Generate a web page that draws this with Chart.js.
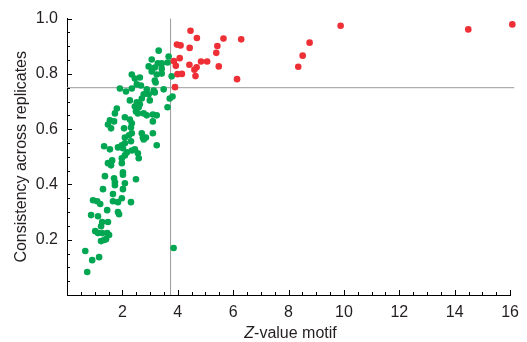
<!DOCTYPE html>
<html>
<head>
<meta charset="utf-8">
<script src="https://cdn.jsdelivr.net/npm/chart.js@4.4.1/dist/chart.umd.min.js"></script>
<style>
    html, body { margin: 0; padding: 0; background: #fff; }
    #wrap { width: 527px; height: 342px; position: relative; }
</style>
</head>
<body>
<div id="wrap"><canvas id="motif-chart"></canvas></div>
<script>
const X_TICKS = [2, 4, 6, 8, 10, 12, 14, 16];
const Y_TICKS = [0.2, 0.4, 0.6, 0.8, 1.0];
const X_TITLE_ITALIC = 'Z';
const X_TITLE_REST = '-value motif';
const Y_TITLE = 'Consistency across replicates';

// seuils (lignes grises)
const Z_CUTOFF = 3.74;
const CONSISTENCY_CUTOFF = 0.75;

// motifs sous le seuil (verts)
const greenZ = [
    3.31, 3.67, 3.63, 3.06, 3.28, 3.42, 2.95, 3.17, 3.42, 3.06, 3.24, 3.42, 2.34, 2.45, 2.63, 3.17,
    3.78, 2.52, 2.67, 3.20, 1.91, 2.34, 2.13, 2.88, 3.13, 3.49, 2.77, 2.95, 3.17, 3.81, 3.71, 2.27,
    2.70, 2.99, 2.52, 2.63, 1.80, 2.45, 2.59, 3.63, 1.73, 2.49, 2.56, 2.77, 2.88, 3.10, 3.24, 2.09,
    1.55, 1.70, 2.27, 2.34, 3.10, 1.48, 1.59, 2.06, 2.31, 2.09, 2.24, 2.34, 2.70, 2.74, 2.85, 2.77,
    3.10, 2.31, 1.34, 1.55, 1.84, 1.98, 2.45, 3.24, 2.16, 2.09, 1.98, 2.56, 2.59, 2.34, 1.63, 1.48,
    1.59, 1.98, 2.02, 2.02, 1.37, 1.70, 1.73, 2.49, 1.73, 2.09, 1.30, 2.02, 1.66, 1.98, 0.94, 1.09,
    1.20, 1.66, 1.84, 2.31, 1.45, 1.84, 1.88, 0.87, 1.12, 1.27, 1.48, 1.23, 1.02, 1.12, 1.27, 1.45,
    1.52, 1.23, 1.34, 1.41, 0.66, 0.91, 1.16, 0.73, 3.85, 2.09, 2.02
];
const greenC = [
    0.884, 0.863, 0.841, 0.852, 0.838, 0.838, 0.827, 0.823, 0.819, 0.809, 0.798, 0.801, 0.798, 0.783, 0.787, 0.776,
    0.791, 0.762, 0.758, 0.769, 0.747, 0.747, 0.736, 0.744, 0.740, 0.744, 0.726, 0.726, 0.733, 0.718, 0.711, 0.704,
    0.711, 0.704, 0.697, 0.690, 0.675, 0.682, 0.679, 0.679, 0.657, 0.664, 0.657, 0.657, 0.650, 0.653, 0.650, 0.643,
    0.632, 0.628, 0.635, 0.621, 0.628, 0.617, 0.603, 0.603, 0.606, 0.570, 0.578, 0.585, 0.585, 0.570, 0.570, 0.563,
    0.585, 0.556, 0.538, 0.527, 0.534, 0.542, 0.527, 0.542, 0.516, 0.505, 0.495, 0.513, 0.495, 0.523, 0.487, 0.477,
    0.469, 0.477, 0.444, 0.435, 0.430, 0.422, 0.408, 0.419, 0.397, 0.404, 0.383, 0.383, 0.365, 0.350, 0.343, 0.339,
    0.329, 0.339, 0.336, 0.336, 0.307, 0.300, 0.292, 0.289, 0.285, 0.264, 0.264, 0.249, 0.231, 0.224, 0.224, 0.224,
    0.217, 0.195, 0.199, 0.202, 0.159, 0.126, 0.137, 0.083, 0.170, 0.549, 0.531
];

// motifs au-dessus des deux seuils (rouges)
const redZ = [
    4.46, 4.69, 5.65, 6.29, 3.97, 4.10, 4.43, 5.43, 5.39, 4.07, 3.86, 3.93, 4.42, 4.84, 5.06,
    4.68, 4.60, 5.48, 3.99, 4.15, 4.64, 6.14, 3.90, 8.35, 8.51, 8.76, 9.88, 14.49, 16.08
];
const redC = [
    0.956, 0.930, 0.928, 0.925, 0.906, 0.903, 0.894, 0.901, 0.876, 0.857, 0.846, 0.829, 0.833, 0.845, 0.845,
    0.824, 0.815, 0.827, 0.799, 0.800, 0.792, 0.781, 0.752, 0.826, 0.866, 0.913, 0.974, 0.961, 0.979
];

const FONT = '"Liberation Sans", Arial, Helvetica, sans-serif';
const TEXT_COLOR = '#231f20';

const toPoints = (xs, ys) => xs.map((x, i) => ({ x, y: ys[i] }));

// ── Ticks vers l'intérieur + titres d'axes ─────────────────
const axisDecor = {
    id: 'axisDecor',
    afterDraw(chart) {
        const { ctx, chartArea: a, scales: { x, y } } = chart;
        ctx.save();
        ctx.strokeStyle = '#000';
        ctx.lineWidth = 1;
        ctx.beginPath();
        for (let i = 1; i <= 32; i++) {
            const px = Math.round(x.getPixelForValue(i * 0.5)) + 0.5;
            const len = i % 4 === 0 ? 5 : 3;
            ctx.moveTo(px, a.bottom);
            ctx.lineTo(px, a.bottom - len);
        }
        for (let i = 1; i <= 20; i++) {
            const py = Math.round(y.getPixelForValue(i * 0.05)) + 0.5;
            const len = i % 4 === 0 ? 5 : 3;
            ctx.moveTo(a.left, py);
            ctx.lineTo(a.left + len, py);
        }
        ctx.stroke();

        ctx.fillStyle = TEXT_COLOR;
        ctx.textBaseline = 'alphabetic';

        // titre X : Z en italique
        ctx.font = 'italic 16px ' + FONT;
        const wZ = ctx.measureText(X_TITLE_ITALIC).width;
        ctx.font = '16px ' + FONT;
        const wRest = ctx.measureText(X_TITLE_REST).width;
        const cx = (a.left + a.right) / 2 + 2;
        const x0 = cx - (wZ + wRest) / 2;
        ctx.textAlign = 'left';
        ctx.font = 'italic 16px ' + FONT;
        ctx.fillText(X_TITLE_ITALIC, x0, 338);
        ctx.font = '16px ' + FONT;
        ctx.fillText(X_TITLE_REST, x0 + wZ, 338);

        // titre Y
        ctx.translate(26, (a.top + a.bottom) / 2);
        ctx.rotate(-Math.PI / 2);
        ctx.textAlign = 'center';
        ctx.fillText(Y_TITLE, 0, 0);
        ctx.restore();
    }
};

new Chart(document.getElementById('motif-chart'), {
    type: 'scatter',
    data: {
        datasets: [
            {
                data: [{ x: Z_CUTOFF, y: 0 }, { x: Z_CUTOFF, y: 1 }],
                showLine: true,
                borderColor: '#9b9b9b',
                borderWidth: 1,
                pointRadius: 0,
                clip: false,
                order: 3
            },
            {
                data: [{ x: 0, y: CONSISTENCY_CUTOFF }, { x: 16.15, y: CONSISTENCY_CUTOFF }],
                showLine: true,
                borderColor: '#9b9b9b',
                borderWidth: 1,
                pointRadius: 0,
                clip: false,
                order: 3
            },
            {
                data: toPoints(greenZ, greenC),
                backgroundColor: '#00a651',
                borderWidth: 0,
                pointRadius: 3.3,
                clip: false,
                order: 2
            },
            {
                data: toPoints(redZ, redC),
                backgroundColor: '#ee2f35',
                borderWidth: 0,
                pointRadius: 3.3,
                clip: false,
                order: 1
            }
        ]
    },
    plugins: [axisDecor],
    options: {
        responsive: true,
        maintainAspectRatio: false,
        animation: false,
        layout: { padding: { top: 18, right: 15, left: 0, bottom: 0 } },
        plugins: {
            legend: { display: false },
            tooltip: { enabled: false }
        },
        scales: {
            x: {
                type: 'linear',
                min: 0,
                max: 16,
                afterFit: s => { s.height = 47; },
                afterBuildTicks: s => { s.ticks = X_TICKS.map(v => ({ value: v })); },
                grid: { display: false, drawTicks: false },
                border: { display: true, color: '#000', width: 1 },
                ticks: {
                    padding: 8,
                    color: TEXT_COLOR,
                    maxRotation: 0,
                    autoSkip: false,
                    font: { family: FONT, size: 16 },
                    callback: v => String(v)
                }
            },
            y: {
                type: 'linear',
                min: 0,
                max: 1,
                afterFit: s => { s.width = 67; },
                afterBuildTicks: s => { s.ticks = Y_TICKS.map(v => ({ value: v })); },
                grid: { display: false, drawTicks: false },
                border: { display: true, color: '#000', width: 1 },
                ticks: {
                    padding: 9,
                    color: TEXT_COLOR,
                    autoSkip: false,
                    font: { family: FONT, size: 16 },
                    callback: v => v.toFixed(1)
                }
            }
        }
    }
});
</script>
</body>
</html>
